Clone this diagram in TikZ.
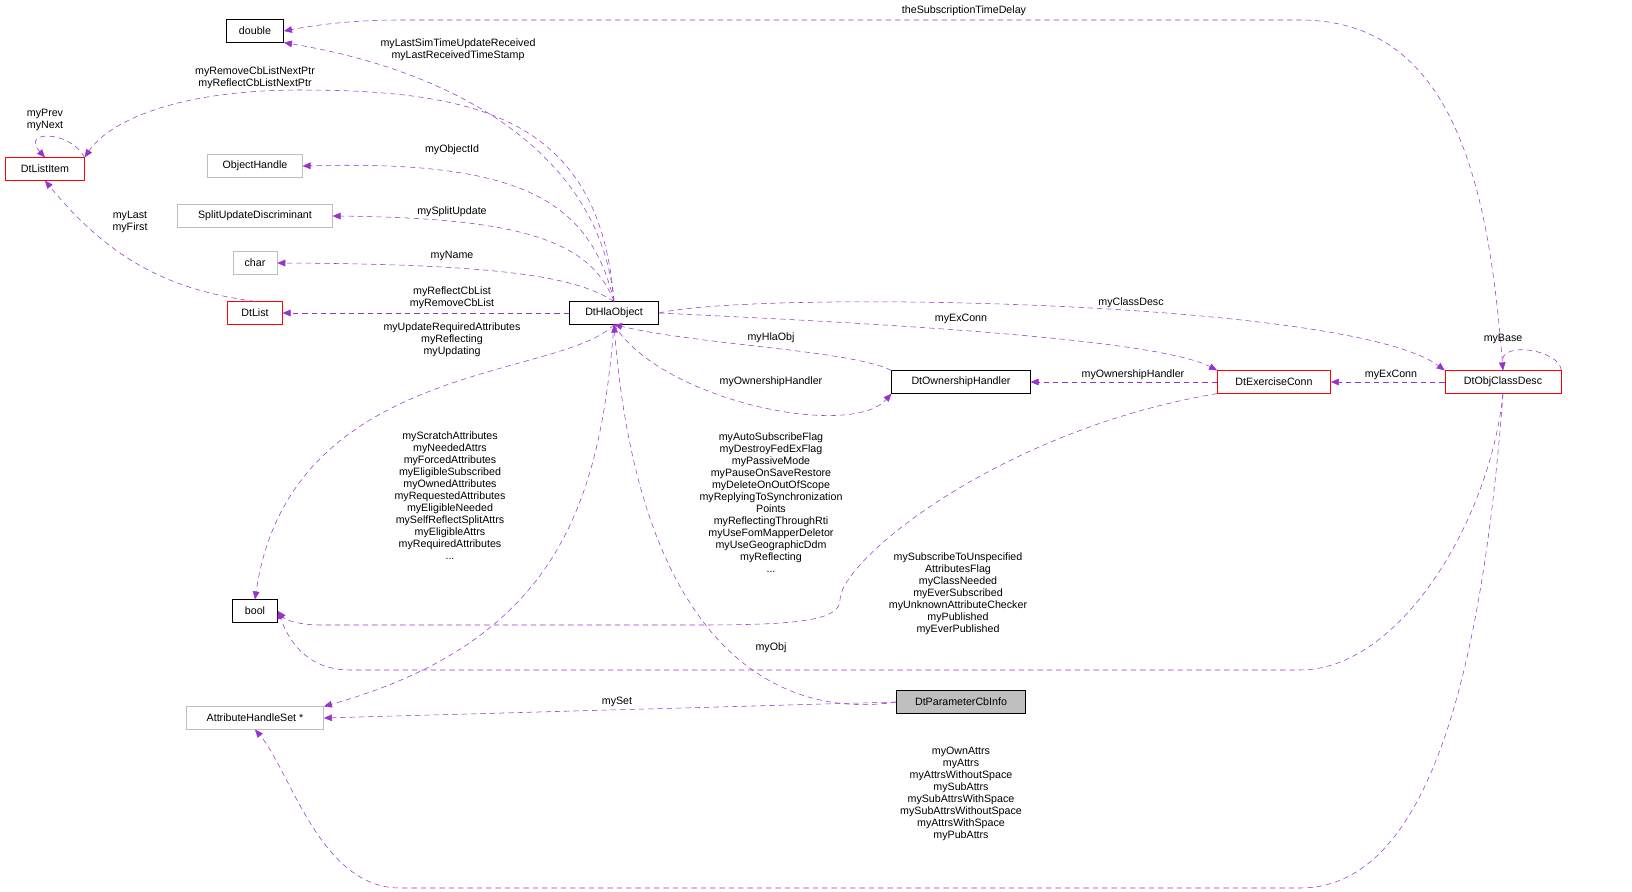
\documentclass[tikz,border=0pt]{standalone}
\usepackage{fontspec}
\setmainfont{Liberation Sans}
\usetikzlibrary{arrows.meta, positioning}
\definecolor{edgepurple}{RGB}{153,50,204}
\definecolor{boxred}{RGB}{255,0,0}
\definecolor{boxgray}{RGB}{191,191,191}
\definecolor{fillgray}{RGB}{191,191,191}
\tikzset{
  cls/.style={draw=black, font=\fontsize{8}{9}\selectfont, inner sep=2pt, minimum height=17pt},
  clsred/.style={cls, draw=boxred},
  clsgray/.style={cls, draw=boxgray},
  edge/.style={draw=edgepurple, dashed, dash pattern=on 4pt off 3pt, -{Triangle[length=6pt,width=5pt]}, fill=none},
  lbl/.style={font=\fontsize{8}{9}\selectfont, align=center, inner sep=0pt}
}
\begin{document}
\begin{tikzpicture}[x=0.75pt, y=-0.75pt]
    \useasboundingbox (0,0) rectangle (1632,892);
    % classes
    \node[cls, minimum width=43pt] (double) at (255,31) {double};
    \node[clsred, minimum width=59pt] (listitem) at (45,169) {DtListItem};
    \node[clsgray, minimum width=71pt] (objhandle) at (255,166) {ObjectHandle};
    \node[clsgray, minimum width=116pt] (splitupd) at (255,216) {SplitUpdateDiscriminant};
    \node[clsgray, minimum width=33pt] (char) at (255,263) {char};
    \node[clsred, minimum width=41pt] (list) at (255,313) {DtList};
    \node[cls, minimum width=67pt] (hlaobj) at (614,313) {DtHlaObject};
    \node[cls, minimum width=104pt] (ownhandler) at (961,382) {DtOwnershipHandler};
    \node[clsred, minimum width=85pt] (exconn) at (1274,382) {DtExerciseConn};
    \node[clsred, minimum width=87pt] (classdesc) at (1503,382) {DtObjClassDesc};
    \node[cls, minimum width=34pt] (bool) at (255,611) {bool};
    \node[clsgray, minimum width=103pt] (attrset) at (255,718) {AttributeHandleSet *};
    \node[cls, fill=fillgray, minimum width=97pt] (paramcb) at (961,702) {DtParameterCbInfo};

    % connectors
    \draw[edge] (classdesc.north) .. controls (1490,200) and (1460,20) .. (1300,20)
        -- (400,20) .. controls (340,20) and (300,28) .. (double.east);
    \draw[edge] (hlaobj.north) .. controls (600,150) and (450,70) .. (double.south east);
    \draw[edge] (hlaobj.north) .. controls (600,120) and (480,90) .. (300,90)
        .. controls (180,90) and (110,120) .. (listitem.north east);
    \draw[edge] (listitem.north east) .. controls (70,130) and (20,130) .. (listitem.north);
    \draw[edge] (hlaobj.north) .. controls (590,200) and (520,160) .. (objhandle.east);
    \draw[edge] (hlaobj.north) .. controls (590,240) and (520,218) .. (splitupd.east);
    \draw[edge] (hlaobj.north) .. controls (580,280) and (520,264) .. (char.east);
    \draw[edge] (hlaobj.west) -- (list.east);
    \draw[edge] (list.north) .. controls (170,290) and (110,260) .. (listitem.south);
    \draw[edge] (hlaobj.south) .. controls (560,380) and (290,360) .. (bool.north);
    \draw[edge] (hlaobj.south) .. controls (600,500) and (560,640) .. (attrset.north east);
    \draw[edge] (paramcb.west) .. controls (780,720) and (640,650) .. (hlaobj.south);
    \draw[edge] (paramcb.west) -- (attrset.east);
    \draw[edge] (hlaobj.east) .. controls (760,290) and (1350,300) .. (classdesc.north west);
    \draw[edge] (hlaobj.east) .. controls (800,320) and (1150,335) .. (exconn.north west);
    \draw[edge] (ownhandler.north west) .. controls (850,350) and (700,345) .. (hlaobj.south);
    \draw[edge] (hlaobj.south) .. controls (660,400) and (850,440) .. (ownhandler.south west);
    \draw[edge] (exconn.west) -- (ownhandler.east);
    \draw[edge] (classdesc.west) -- (exconn.east);
    \draw[edge] (classdesc.north east) .. controls (1560,350) and (1500,340) .. (classdesc.north);
    \draw[edge] (exconn.south west) .. controls (1000,430) and (840,560) .. (840,600)
        .. controls (840,620) and (800,625) .. (700,625)
        -- (320,625) .. controls (300,625) and (285,620) .. (bool.east);
    \draw[edge] (classdesc.south) .. controls (1490,520) and (1400,670) .. (1300,670)
        -- (350,670) .. controls (300,670) and (285,630) .. (bool.east);
    \draw[edge] (classdesc.south) .. controls (1480,700) and (1420,888) .. (1300,888)
        -- (400,888) .. controls (320,888) and (290,770) .. (attrset.south);

    % labels
    \node[lbl] (l1) at (964,11) {theSubscriptionTimeDelay};
    \node[lbl] (l2) at (458,50) {myLastSimTimeUpdateReceived\\myLastReceivedTimeStamp};
    \node[lbl] (l3) at (255,78) {myRemoveCbListNextPtr\\myReflectCbListNextPtr};
    \node[lbl] (l4) at (45,120) {myPrev\\myNext};
    \node[lbl] (l5) at (452,150) {myObjectId};
    \node[lbl] (l6) at (452,212) {mySplitUpdate};
    \node[lbl] (l7) at (452,256) {myName};
    \node[lbl] (l8) at (452,298) {myReflectCbList\\myRemoveCbList};
    \node[lbl] (l9) at (130,222) {myLast\\myFirst};
    \node[lbl] (l10) at (452,340) {myUpdateRequiredAttributes\\myReflecting\\myUpdating};
    \node[lbl] (l11) at (450,496) {myScratchAttributes\\myNeededAttrs\\myForcedAttributes\\myEligibleSubscribed\\myOwnedAttributes\\myRequestedAttributes\\myEligibleNeeded\\mySelfReflectSplitAttrs\\myEligibleAttrs\\myRequiredAttributes\\...};
    \node[lbl] (l12) at (771,648) {myObj};
    \node[lbl] (l13) at (617,702) {mySet};
    \node[lbl] (l14) at (1131,303) {myClassDesc};
    \node[lbl] (l15) at (961,319) {myExConn};
    \node[lbl] (l16) at (771,338) {myHlaObj};
    \node[lbl] (l17) at (771,382) {myOwnershipHandler};
    \node[lbl] (l18) at (1133,375) {myOwnershipHandler};
    \node[lbl] (l19) at (1391,375) {myExConn};
    \node[lbl] (l20) at (1503,339) {myBase};
    \node[lbl] (l21) at (771,503) {myAutoSubscribeFlag\\myDestroyFedExFlag\\myPassiveMode\\myPauseOnSaveRestore\\myDeleteOnOutOfScope\\myReplyingToSynchronization\\Points\\myReflectingThroughRti\\myUseFomMapperDeletor\\myUseGeographicDdm\\myReflecting\\...};
    \node[lbl] (l22) at (958,594) {mySubscribeToUnspecified\\AttributesFlag\\myClassNeeded\\myEverSubscribed\\myUnknownAttributeChecker\\myPublished\\myEverPublished};
    \node[lbl] (l23) at (961,794) {myOwnAttrs\\myAttrs\\myAttrsWithoutSpace\\mySubAttrs\\mySubAttrsWithSpace\\mySubAttrsWithoutSpace\\myAttrsWithSpace\\myPubAttrs};
\end{tikzpicture}
\end{document}
